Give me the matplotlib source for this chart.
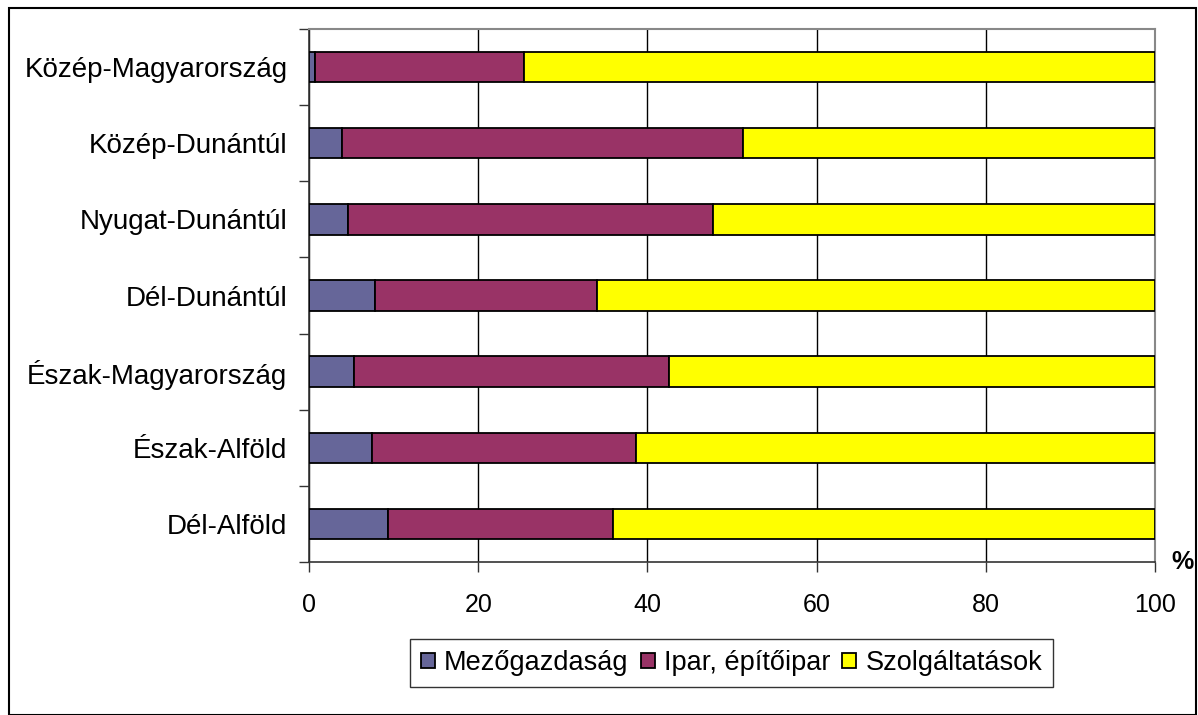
import matplotlib
matplotlib.use("Agg")
from matplotlib import pyplot as plt
from matplotlib.patches import Rectangle
import numpy as np

plt.rcParams['font.family'] = ['Liberation Sans', 'DejaVu Sans']

regions = ['Közép-Magyarország', 'Közép-Dunántúl', 'Nyugat-Dunántúl', 'Dél-Dunántúl',
           'Észak-Magyarország', 'Észak-Alföld', 'Dél-Alföld']
mezo = [0.7, 3.9, 4.6, 7.8, 5.3, 7.5, 9.3]
ipar = [24.7, 47.4, 43.1, 26.2, 37.3, 31.1, 26.6]
szolg = [74.6, 48.7, 52.3, 66.0, 57.4, 61.4, 64.1]
series_names = ['Mezőgazdaság', 'Ipar, építőipar', 'Szolgáltatások']
colors = ['#666699', '#993366', '#FFFF00']

fig = plt.figure(figsize=(11.98, 7.15), dpi=100)
ax = fig.add_axes([309 / 1198, 1 - 562 / 715, (1155 - 309) / 1198, (562 - 29) / 715])

y = np.arange(len(regions))
left = np.zeros(len(regions))
handles = []
for vals, name, col in zip([mezo, ipar, szolg], series_names, colors):
    b = ax.barh(y, vals, left=left, height=0.4, color=col, edgecolor='black',
                linewidth=1.3, label=name, zorder=3)
    handles.append(b)
    left = left + np.array(vals)

ax.set_xlim(0, 100)
ax.set_ylim(len(regions) - 0.5, -0.5)
ax.set_xticks([0, 20, 40, 60, 80, 100])
ax.xaxis.grid(True, color='black', linewidth=1.0, zorder=0)
ax.tick_params(axis='x', length=7, width=1, color='#333333', labelsize=18, pad=15)

ax.set_yticks(y)
ax.set_yticklabels(regions)
ax.set_yticks(np.arange(len(regions) + 1) - 0.5, minor=True)
ax.tick_params(axis='y', which='major', length=0, labelsize=20, pad=15.5)
ax.tick_params(axis='y', which='minor', length=7, width=1, color='#333333')

for s in ['top', 'right']:
    ax.spines[s].set_color('#888888')
    ax.spines[s].set_linewidth(1.5)
for s in ['left', 'bottom']:
    ax.spines[s].set_color('#333333')
    ax.spines[s].set_linewidth(1.2)

fig.text(1183 / 1198, 1 - 562 / 715, '%', fontsize=18, fontweight='bold',
         ha='center', va='center')

leg = fig.legend(handles=handles, loc='center', bbox_to_anchor=(731.5 / 1198, 1 - 663 / 715),
                 ncol=3, fontsize=19.5, frameon=True, fancybox=False, handlelength=0.52,
                 handleheight=0.52, handletextpad=0.33, columnspacing=0.45,
                 borderpad=0.4, borderaxespad=0)
leg.get_frame().set_edgecolor('black')
leg.get_frame().set_linewidth(1.0)

fig.patches.append(Rectangle((8.5 / 1198, 0), (1196 - 8.5) / 1198, (715 - 8) / 715,
                             transform=fig.transFigure, fill=False, edgecolor='black',
                             linewidth=1.5))

fig.savefig('out.png', dpi=100)
